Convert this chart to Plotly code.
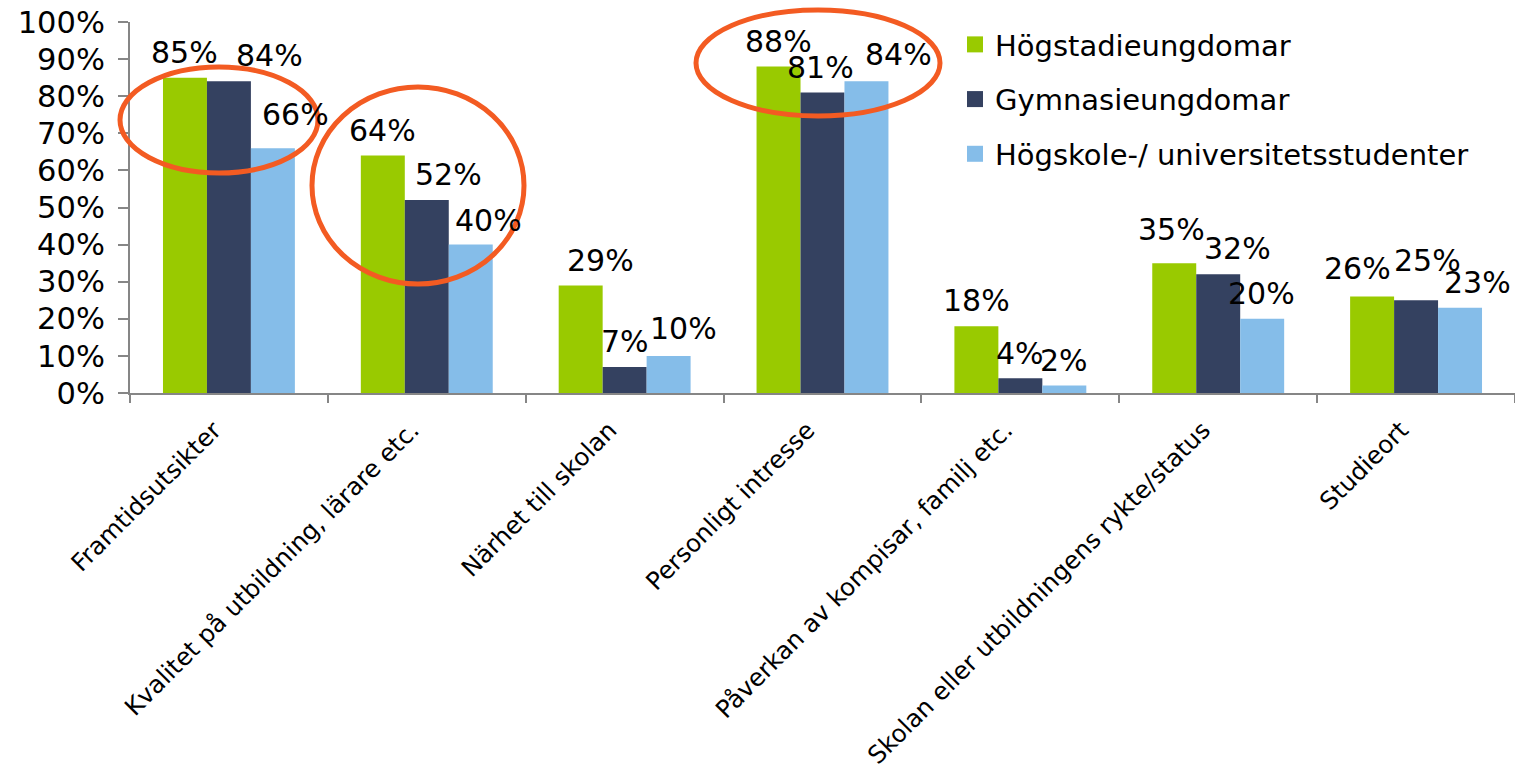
import plotly.graph_objects as go

# ---------------- data ----------------
categories = [
    "Framtidsutsikter",
    "Kvalitet på utbildning, lärare etc.",
    "Närhet till skolan",
    "Personligt intresse",
    "Påverkan av kompisar, familj etc.",
    "Skolan eller utbildningens rykte/status",
    "Studieort",
]
series_names = ["Högstadieungdomar", "Gymnasieungdomar", "Högskole-/ universitetsstudenter"]
hogstadie = [0.85, 0.64, 0.29, 0.88, 0.18, 0.35, 0.26]
gymnasie = [0.84, 0.52, 0.07, 0.81, 0.04, 0.32, 0.25]
hogskola = [0.66, 0.40, 0.10, 0.84, 0.02, 0.20, 0.23]
y_ticks = [0, 0.1, 0.2, 0.3, 0.4, 0.5, 0.6, 0.7, 0.8, 0.9, 1.0]

# ---------------- style / layout ----------------
colors = ["#99CA00", "#344160", "#85BDE9"]
FONT = "DejaVu Sans"
OFF = 0                      # page body margin removed via post_script
W, H = 1515 - OFF, 772 - OFF
ML, MR, MT, MB = 130 - OFF, 0, 22 - OFF, 772 - 393
PLOT_W = W - ML - MR
PLOT_H = H - MT - MB

# label nudges (pixels): (dx from bar centre, text height above bar top)
LABEL_NUDGE = [
    [(0, 27), (0, 27), (20, 27), (0, 27), (0, 28), (-3, 36), (-15, 30)],
    [(41, 28), (22, 28), (0, 28), (-2, 27), (0, 27), (19, 28), (11, 42)],
    [(23, 36), (18, 26), (15, 29), (32, 29), (0, 27), (-1, 27), (17, 27)],
]

fig = go.Figure()
all_series = [hogstadie, gymnasie, hogskola]
for name, vals, col in zip(series_names, all_series, colors):
    fig.add_trace(go.Bar(x=categories, y=vals, name=name, marker_color=col,
                         marker_line_width=0, showlegend=False, legendgroup=name))
# legend entries with larger square swatches
for name, col in zip(series_names, colors):
    fig.add_trace(go.Scatter(x=[None], y=[None], mode="markers", name=name,
                             legendgroup=name,
                             marker=dict(symbol="square", size=20, color=col)))

cat_w = PLOT_W / len(categories)
bar_w = cat_w * (2 / 3) / 3
annotations = []
for si, vals in enumerate(all_series):
    for ci, (c, v) in enumerate(zip(categories, vals)):
        dx, dy = LABEL_NUDGE[si][ci]
        annotations.append(dict(
            x=c, y=v, xref="x", yref="y", text=f"{round(v*100)}%",
            showarrow=False, xshift=(si - 1) * bar_w + dx, yshift=dy - 2,
            font=dict(family=FONT, size=30, color="#000000"),
        ))

def ell(px0, px1, py0, py1):
    # page pixel box -> paper coordinates
    fx0, fx1 = px0 - OFF, px1 - OFF
    fy0, fy1 = py0 - OFF, py1 - OFF
    return dict(type="circle", xref="paper", yref="paper",
                x0=(fx0 - ML) / PLOT_W, x1=(fx1 - ML) / PLOT_W,
                y0=(MT + PLOT_H - fy1) / PLOT_H, y1=(MT + PLOT_H - fy0) / PLOT_H,
                line=dict(color="#F35B22", width=5), layer="above")

shapes = [ell(120, 318, 67, 173), ell(312, 524, 87, 284), ell(696, 940, 10, 116)]

fig.update_layout(
    width=W, height=H,
    margin=dict(l=ML, r=MR, t=MT, b=MB, pad=0),
    paper_bgcolor="white", plot_bgcolor="white",
    font=dict(family=FONT, color="#000000"),
    barmode="group", bargap=1/3, bargroupgap=0,
    showlegend=True,
    legend=dict(x=(955 - OFF - ML) / PLOT_W, y=1.008, xanchor="left", yanchor="top",
                font=dict(family=FONT, size=29, color="#000000"),
                tracegroupgap=14, itemsizing="trace",
                bgcolor="rgba(0,0,0,0)"),
    annotations=annotations,
    shapes=shapes,
)
fig.update_xaxes(
    showline=True, linecolor="#868686", linewidth=2,
    ticks="outside", ticklen=8, tickcolor="#868686", tickwidth=2,
    tickson="boundaries", tickangle=-45,
    ticklabelshift=-15, ticklabelstandoff=11,
    tickfont=dict(family=FONT, size=24.5, color="#000000"),
    showgrid=False, zeroline=False, automargin=False,
)
fig.update_yaxes(
    range=[0, 1], tickvals=y_ticks, tickformat=".0%",
    showline=True, linecolor="#868686", linewidth=2,
    ticks="outside", ticklen=10, tickcolor="#868686", tickwidth=2,
    ticklabelstandoff=7, ticklabeloverflow="allow",
    tickfont=dict(family=FONT, size=30.5, color="#000000"),
    showgrid=False, zeroline=False, automargin=False,
)

fig.write_html("out.html",
               config={"displayModeBar": False},
               post_script="document.body.style.margin='0';document.body.style.overflow='hidden';")
